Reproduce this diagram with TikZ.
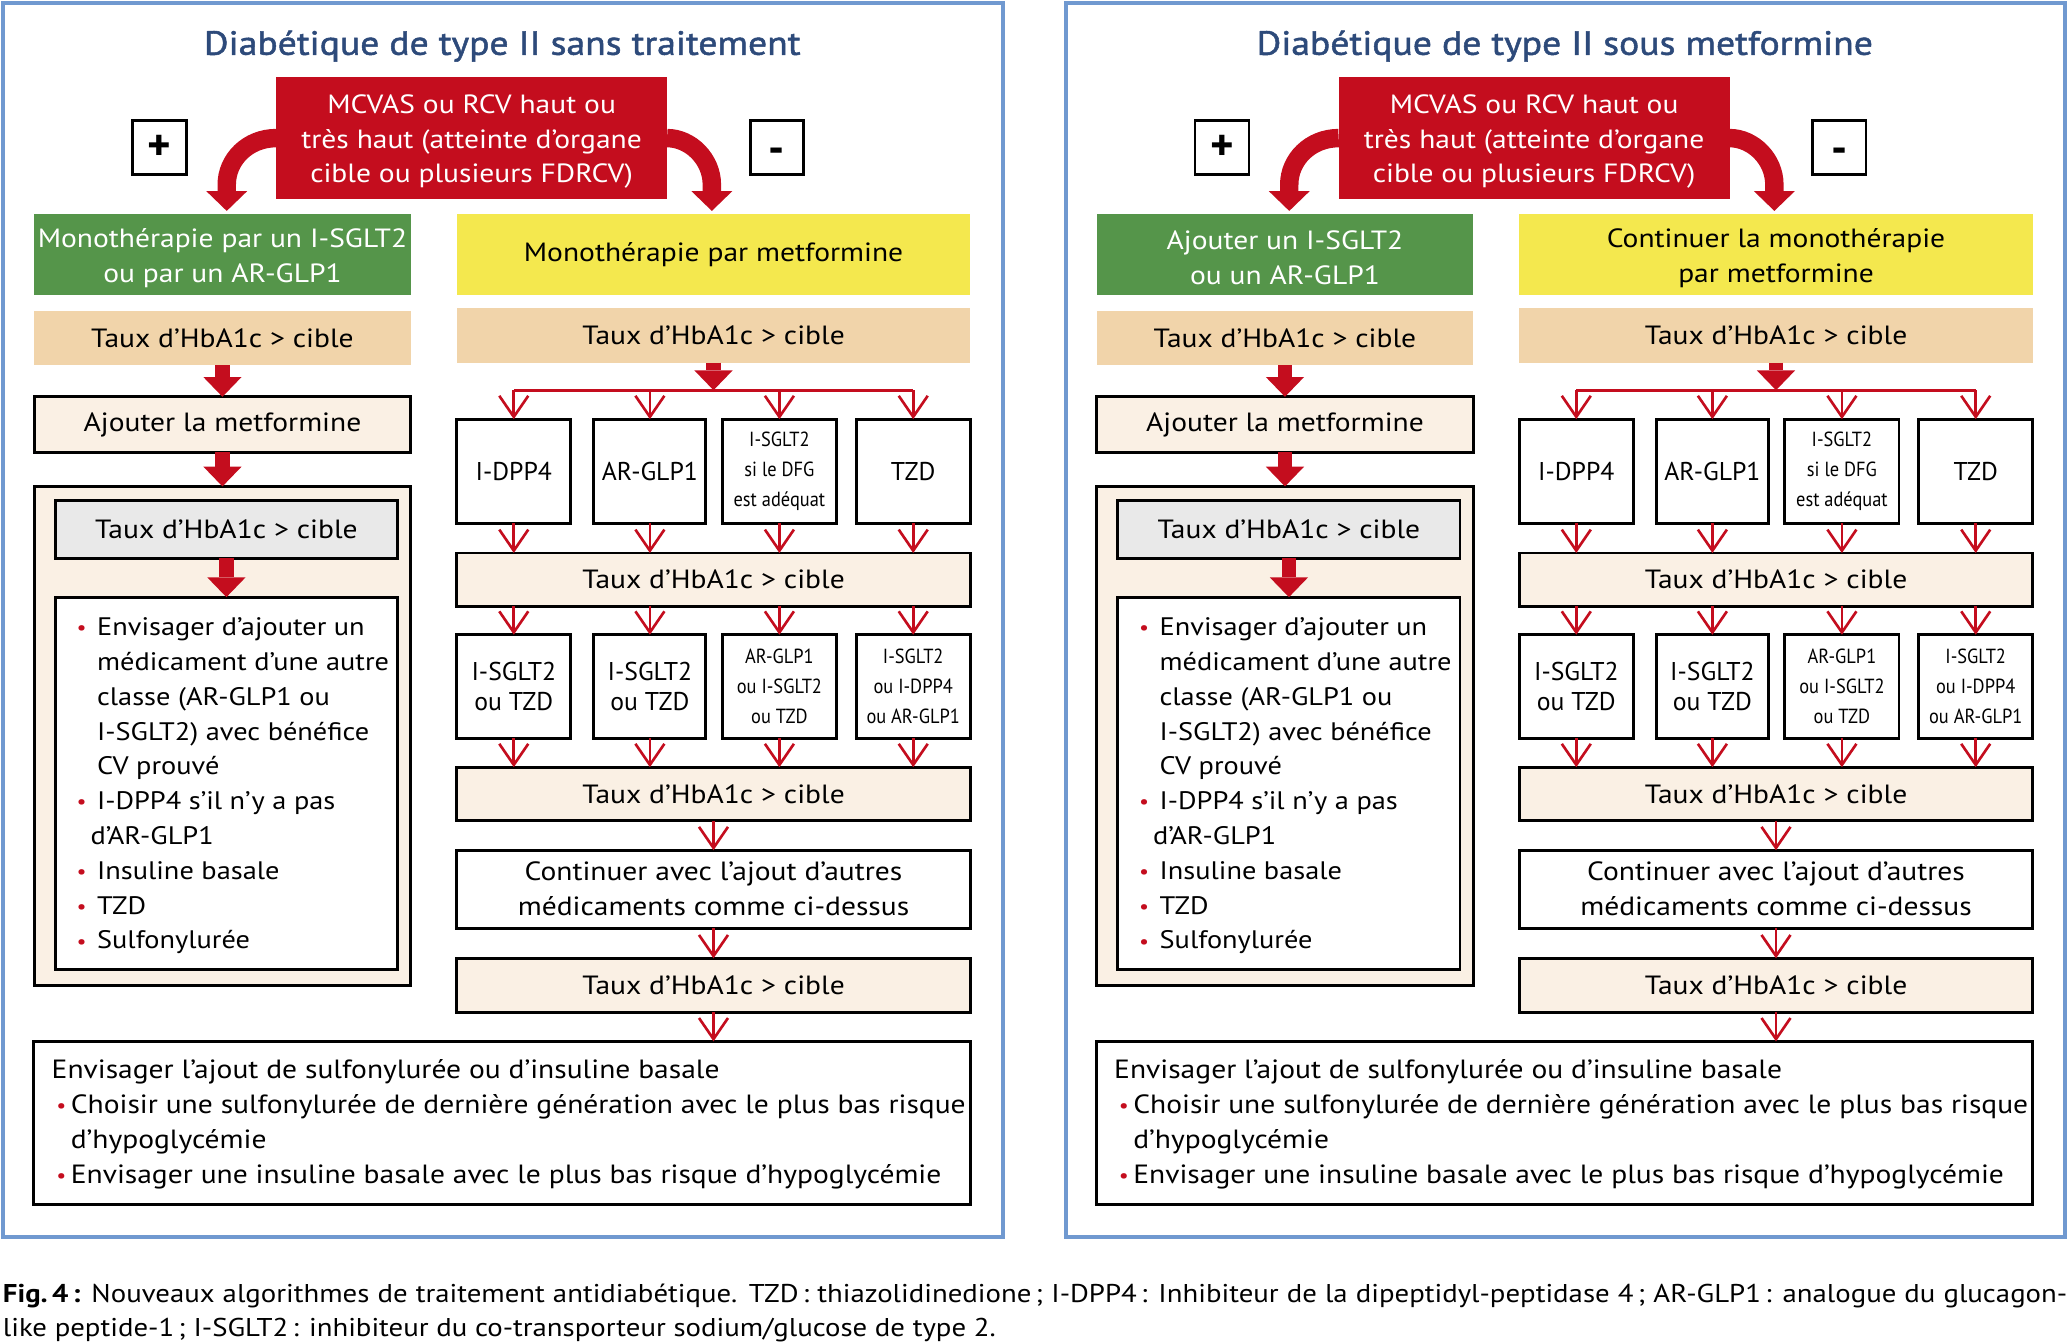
\documentclass[tikz,border=0pt]{standalone}
\usepackage{fontspec}
\setmainfont[FakeStretch=1.12]{PT Sans}
\newfontfamily\plainfont{PT Sans}
\newfontfamily\condfont[FakeStretch=0.9]{PT Sans}
\newfontfamily\ttlfont[FakeBold=1.5,FakeStretch=1.12]{PT Sans}
\usetikzlibrary{arrows.meta}
\definecolor{myred}{HTML}{C40D1E}
\definecolor{mygreen}{HTML}{55954A}
\definecolor{myyellow}{HTML}{F4E84E}
\definecolor{mypeach}{HTML}{F1D4AA}
\definecolor{mycream}{HTML}{FAF0E4}
\definecolor{mygrey}{HTML}{E9E9E9}
\definecolor{myblue}{HTML}{7099D0}
\definecolor{mytitle}{HTML}{2D4A7A}
\tikzset{
 boxbase/.style={inner sep=0pt, outer sep=0pt, align=center, font=\fontsize{20}{26.5}\selectfont},
 redbox/.style={boxbase, fill=myred, text=white},
 greenbox/.style={boxbase, fill=mygreen, text=white},
 yellowbox/.style={boxbase, fill=myyellow},
 peachbox/.style={boxbase, fill=mypeach},
 creambox/.style={boxbase, fill=mycream, draw=black, line width=2.2pt},
 whitebox/.style={boxbase, fill=white, draw=black, line width=2.2pt},
 greybox/.style={boxbase, fill=mygrey, draw=black, line width=2.2pt},
 signbox/.style={inner sep=0pt, outer sep=0pt, fill=white, draw=black, line width=2.2pt, font=\plainfont\fontsize{34}{34}\selectfont\bfseries},
 condbox/.style={whitebox, font=\condfont\fontsize{15.5}{22.5}\selectfont},
 capbox/.style={whitebox, font=\plainfont\fontsize{19.5}{23}\selectfont},
 panelframe/.style={draw=myblue, line width=3pt, inner sep=0pt, outer sep=0pt},
 thickarr/.style={draw=myred, line width=11pt, -{Triangle[length=15pt,width=29pt,line width=0pt]}},
 curvarr/.style={draw=myred, line width=14pt, -{Triangle[length=15pt,width=31pt,line width=0pt]}},
 thinarr/.style={draw=myred, line width=2pt, -{Straight Barb[length=16pt,width=22pt]}},
 branch/.style={draw=myred, line width=2.5pt},
 titletext/.style={inner sep=0pt, text=mytitle, font=\ttlfont\fontsize{25.5}{30}\selectfont},
 listtext/.style={inner sep=0pt, anchor=north west, font=\fontsize{19.2}{26.4}\selectfont},
 fintext/.style={inner sep=0pt, anchor=north west, font=\fontsize{20}{26.5}\selectfont},
 captext/.style={inner sep=0pt, anchor=base west, font=\fontsize{19.5}{26}\selectfont},
}
\newcommand\bx[7]{\node[#1, minimum width={#4-#2}, minimum height={#5-#3}] (#6) at ({(#2+#4)/2},{(#3+#5)/2}) {#7};}
\newcommand\mybul{\makebox[15.5pt][l]{\raisebox{0.5pt}{\textcolor{myred}{\fontsize{15}{15}\selectfont •}}}}
\newcommand\mybulb{\makebox[11pt][l]{\raisebox{0.5pt}{\textcolor{myred}{\fontsize{15}{15}\selectfont •}}}}
\newcommand\myind{\hspace*{15.5pt}}
\newcommand\tallst{\rule{0pt}{19.5pt}}
\newcommand\hba{Taux d’HbA1c > cible}
\newcommand\panel[4]{%
 \node[panelframe, minimum width=758, minimum height=936] (#1frame) at (381.5,470) {};
 \node[titletext] (#1title) at (381,35) {#2};
 \bx{redbox}{209.5}{58.5}{506}{151}{#1red}{\tallst MCVAS ou RCV haut ou\\très haut (atteinte d’organe\\cible ou plusieurs FDRCV)}
 \bx{signbox}{100.5}{91.5}{141.5}{132.5}{#1plus}{+}
 \bx{signbox}{569}{91.5}{609.5}{132.5}{#1minus}{\raisebox{-12pt}[0pt][0pt]{-}}
 \bx{greenbox}{26}{162}{311.5}{224}{#1green}{#3}
 \bx{yellowbox}{346.5}{162}{736}{224}{#1yellow}{#4}
 \bx{peachbox}{26}{236}{311.5}{277}{#1pa}{\hba}
 \bx{peachbox}{346.5}{233.5}{736}{275}{#1pb}{\hba}
 \bx{creambox}{26}{301}{311.5}{343}{#1metf}{Ajouter la metformine}
 \bx{creambox}{26}{369}{311.5}{747.5}{#1big}{}
 \bx{greybox}{42}{380}{301.5}{423.5}{#1grey}{\hba}
 \bx{whitebox}{42}{453}{301.5}{735.5}{#1list}{}
 \node[listtext] (#1listtxt) at (58,463.5) {\begin{tabular}{@{}l@{}}
  \mybul Envisager d’ajouter un\\
  \myind médicament d’une autre\\
  \myind classe (AR-GLP1 ou\\
  \myind I-SGLT2) avec bénéfice\\
  \myind CV prouvé\\
  \mybul I-DPP4 s’il n’y a pas\\
  \hspace*{10.5pt}d’AR-GLP1\\
  \mybul Insuline basale\\
  \mybul TZD\\
  \mybul Sulfonylurée
  \end{tabular}};
 \bx{capbox}{346.5}{318}{433}{397}{#1ba}{I-DPP4}
 \bx{capbox}{450.5}{318}{535.5}{397}{#1bb}{AR-GLP1}
 \bx{condbox}{548}{318}{634.5}{397}{#1bc}{I-SGLT2\\si le DFG\\est adéquat}
 \bx{capbox}{649.5}{318}{736}{397}{#1bd}{TZD}
 \bx{creambox}{346.5}{419.5}{736}{460}{#1ta}{\hba}
 \bx{capbox}{346.5}{481.5}{433}{560}{#1ca}{I-SGLT2\\ou TZD}
 \bx{capbox}{450.5}{481.5}{535.5}{560}{#1cb}{I-SGLT2\\ou TZD}
 \bx{condbox}{548}{481.5}{634.5}{560}{#1cc}{AR-GLP1\\ou I-SGLT2\\ou TZD}
 \bx{condbox}{649.5}{481.5}{736}{560}{#1cd}{I-SGLT2\\ou I-DPP4\\ou AR-GLP1}
 \bx{creambox}{346.5}{582}{736}{622.5}{#1tb}{\hba}
 \bx{whitebox}{346.5}{645}{736}{704}{#1cont}{Continuer avec l’ajout d’autres\\médicaments comme ci-dessus}
 \bx{creambox}{346.5}{727}{736}{768}{#1tc}{\hba}
 \bx{whitebox}{25.5}{790}{736}{914}{#1final}{}
 \node[fintext] (#1fintxt) at (39,799.5) {\begin{tabular}{@{}l@{}}
  Envisager l’ajout de sulfonylurée ou d’insuline basale\\
  \hspace*{3.5pt}\mybulb Choisir une sulfonylurée de dernière génération avec le plus bas risque\\
  \hspace*{14.5pt}d’hypoglycémie\\
  \hspace*{3.5pt}\mybulb Envisager une insuline basale avec le plus bas risque d’hypoglycémie
  \end{tabular}};
 % curved arrows
 \coordinate (#1lt) at (172,160);
 \coordinate (#1rt) at (540,160);
 \draw[curvarr] (#1red.west) .. controls (188,104.75) and (172,121) .. (172,140) -- (#1lt);
 \draw[curvarr] (#1red.east) .. controls (524,104.75) and (540,121) .. (540,140) -- (#1rt);
 % left column
 \draw[thickarr] (#1pa.south) -- (#1metf.north);
 \draw[thickarr] (#1metf.south) -- (#1big.north);
 \draw[thickarr] (#1grey.south) -- (#1list.north);
 % right column
 \coordinate (#1br) at (541.25,296);
 \draw[thickarr] (#1pb.south) -- (#1br);
 \draw[branch] (#1ba.north |- #1br) -- (#1bd.north |- #1br);
 \foreach \b in {ba,bb,bc,bd}{
   \draw[thinarr] (#1\b.north |- #1br) -- (#1\b.north);
   \draw[thinarr] (#1\b.south) -- (#1\b.south |- #1ta.north);
 }
 \foreach \c in {ca,cb,cc,cd}{
   \draw[thinarr] (#1ta.south -| #1\c.north) -- (#1\c.north);
   \draw[thinarr] (#1\c.south) -- (#1\c.south |- #1tb.north);
 }
 \draw[thinarr] (#1tb.south) -- (#1cont.north);
 \draw[thinarr] (#1cont.south) -- (#1tc.north);
 \draw[thinarr] (#1tc.south) -- (#1tc.south |- #1final.north);
}
\begin{document}
\begin{tikzpicture}[x=1pt,y=-1pt]
\useasboundingbox (0,0) rectangle (1568,1018);
\panel{L}{Diabétique de type II sans traitement}{\tallst Monothérapie par un I-SGLT2\\ou par un AR-GLP1}{Monothérapie par metformine}
\begin{scope}[xshift=806pt]
\panel{R}{Diabétique de type II sous metformine}{\tallst Ajouter un I-SGLT2\\ou un AR-GLP1}{\tallst Continuer la monothérapie\\par metformine}
\end{scope}
\node[captext] (cap1) at (2,988) {\makebox[1566pt][s]{\textbf{Fig.\,4\,:} Nouveaux algorithmes de traitement antidiabétique. TZD\,: thiazolidinedione\,; I-DPP4\,: Inhibiteur de la dipeptidyl-peptidase 4\,; AR-GLP1\,: analogue du glucagon-}};
\node[captext] (cap2) at (2,1013.5) {like peptide-1\,; I-SGLT2\,: inhibiteur du co-transporteur sodium/glucose de type 2.};
\end{tikzpicture}
\end{document}
